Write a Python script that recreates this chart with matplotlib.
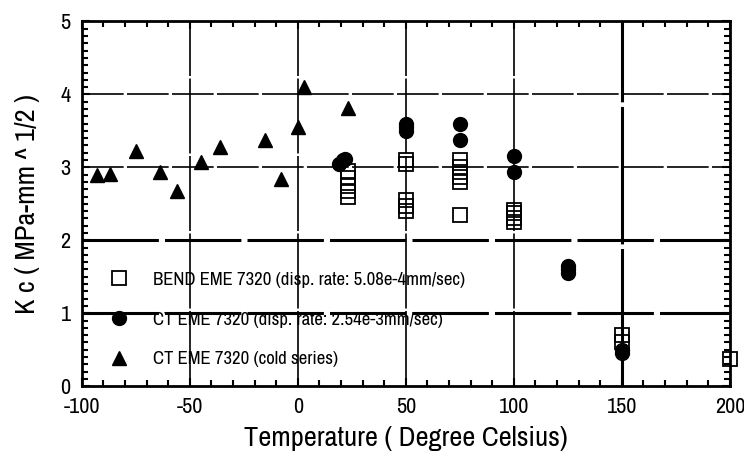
import matplotlib
matplotlib.use("Agg")
import matplotlib.pyplot as plt
from matplotlib import font_manager
from matplotlib.ticker import MultipleLocator

names = sorted({f.name for f in font_manager.fontManager.ttflist})
narrow = [n for n in names if ("Narrow" in n or "Condensed" in n)]
fam = narrow[:1] if narrow else ["Liberation Sans"]
plt.rcParams['font.family'] = fam + ["Liberation Sans", "DejaVu Sans"]
plt.rcParams['axes.unicode_minus'] = False

# Data
bend_x = [23, 23, 23, 23, 23, 50, 50, 50, 50, 50, 75, 75, 75, 75, 75, 75, 100, 100, 100, 100, 150, 150, 200]
bend_y = [2.6, 2.67, 2.75, 2.85, 2.95, 3.05, 3.1, 2.4, 2.47, 2.55, 2.8, 2.87, 2.93, 3.0, 3.1, 2.35, 2.25, 2.3, 2.37, 2.42, 0.6, 0.7, 0.37]
ct_x = [19, 21, 22, 50, 50, 50, 75, 75, 100, 100, 125, 125, 125, 150, 150]
ct_y = [3.05, 3.1, 3.12, 3.5, 3.55, 3.6, 3.6, 3.38, 3.15, 2.94, 1.55, 1.6, 1.65, 0.45, 0.5]
cold_x = [-93, -87, -75, -64, -56, -45, -36, -15, -8, 0, 3, 23]
cold_y = [2.89, 2.91, 3.23, 2.94, 2.67, 3.07, 3.28, 3.37, 2.84, 3.56, 4.10, 3.81]

labels = ["BEND EME 7320 (disp. rate: 5.08e-4mm/sec)",
          "CT EME 7320 (disp. rate: 2.54e-3mm/sec)",
          "CT EME 7320 (cold series)"]

fig = plt.figure(figsize=(7.44, 4.57), dpi=100)
ax = fig.add_axes([0.110, 0.155, 0.871, 0.798])

# grid lines
for xv in [-50, 0, 50, 100, 150]:
    ax.axvline(xv, color='black', lw=2.2 if xv == 150 else 1.2, ls=(0, (45, 1.5)), zorder=1)
for yv in [1, 2, 3, 4]:
    ax.axhline(yv, color='black', lw=2.2 if yv in (1, 2) else 1.2, ls=(0, (25, 2)), zorder=1)

ax.plot(bend_x, bend_y, ls='none', marker='s', ms=9.5, mfc='none', mec='black', mew=1.3,
        label=labels[0], clip_on=False, zorder=3)
ax.plot(ct_x, ct_y, ls='none', marker='o', ms=10, mfc='black', mec='black',
        label=labels[1], clip_on=False, zorder=3)
ax.plot(cold_x, cold_y, ls='none', marker='^', ms=10.5, mfc='black', mec='black',
        label=labels[2], clip_on=False, zorder=3)

ax.set_xlim(-100, 200)
ax.set_ylim(0, 5)
ax.xaxis.set_major_locator(MultipleLocator(50))
ax.xaxis.set_minor_locator(MultipleLocator(10))
ax.yaxis.set_major_locator(MultipleLocator(1))
ax.yaxis.set_minor_locator(MultipleLocator(0.1))
ax.tick_params(which='both', direction='in', top=True, right=True, width=1.5)
ax.tick_params(which='major', length=6, labelsize=16, pad=8)
ax.tick_params(which='minor', length=4)
for s in ax.spines.values():
    s.set_linewidth(2)

ax.set_xlabel("Temperature ( Degree Celsius)", fontsize=20.5, labelpad=6)
ax.set_ylabel("K c ( MPa-mm ^ 1/2 )", fontsize=20.5, labelpad=15)

leg = ax.legend(loc='upper left', bbox_to_anchor=(0.043, 0.314), frameon=False,
                borderpad=0, borderaxespad=0,
                fontsize=13.5, labelspacing=1.26, handletextpad=1.3, handlelength=1.0)

fig.savefig("out.png", dpi=100)
